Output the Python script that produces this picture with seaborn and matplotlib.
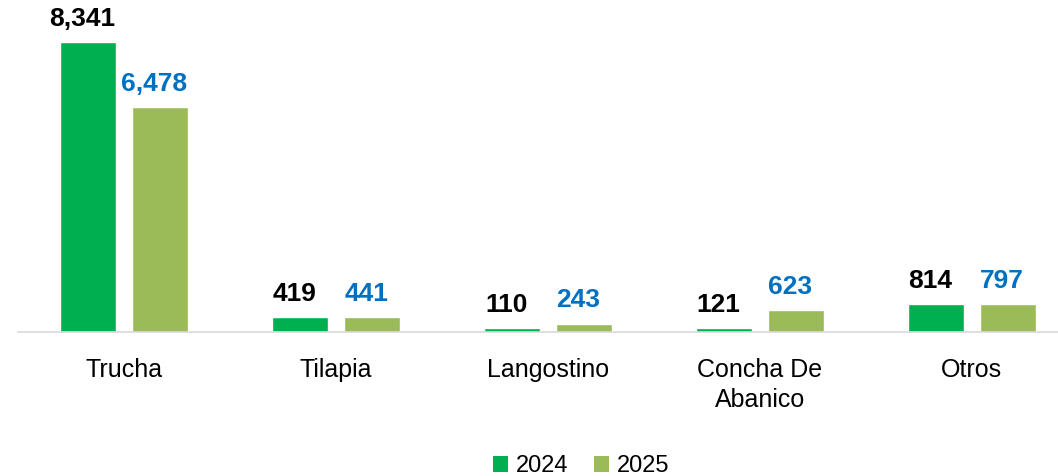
import matplotlib
matplotlib.use("Agg")
import matplotlib.pyplot as plt
import seaborn as sns
import pandas as pd
from matplotlib.patches import Patch

categories = ["Trucha", "Tilapia", "Langostino", "Concha De\nAbanico", "Otros"]
years = ["2024", "2025"]
values_2024 = [8341, 419, 110, 121, 814]
values_2025 = [6478, 441, 243, 623, 797]

colors = {"2024": "#00B050", "2025": "#9BBB59"}
label_colors = {"2024": "#000000", "2025": "#0070C0"}

df = pd.DataFrame({
    "cat": categories * 2,
    "year": ["2024"] * len(categories) + ["2025"] * len(categories),
    "val": values_2024 + values_2025,
})

sns.set_theme(style="white")
plt.rcParams["font.family"] = ["Liberation Sans", "DejaVu Sans"]

fig = plt.figure(figsize=(10.58, 4.76), dpi=100)
ax = fig.add_axes([18 / 1058, 1 - 332 / 476, 1040 / 1058, 332 / 476])

sns.barplot(data=df, x="cat", y="val", hue="year", order=categories,
            hue_order=years, palette=colors, width=0.675, gap=0.214,
            ax=ax, legend=False, saturation=1)

for cont, yr in zip(ax.containers, years):
    for patch, v in zip(cont.patches, cont.datavalues):
        ax.annotate(f"{v:,.0f}",
                    xy=(patch.get_x() + patch.get_width() / 2, patch.get_height()),
                    xytext=(-4, 8), textcoords="offset points",
                    ha="center", va="bottom", fontsize=19, fontweight="bold",
                    color=label_colors[yr])

ax.set_ylim(0, 9550)
ax.set_xlim(-0.5, 4.406)
ax.set_xlabel("")
ax.set_ylabel("")
ax.set_yticks([])
for s in ["top", "right", "left"]:
    ax.spines[s].set_visible(False)
ax.spines["bottom"].set_color("#D9D9D9")
ax.spines["bottom"].set_linewidth(1.2)
ax.tick_params(axis="x", length=0, pad=19, labelsize=18, labelcolor="#000000")
for t in ax.get_xticklabels():
    t.set_linespacing(1.3)
    t.set_verticalalignment("top")

handles = [Patch(facecolor=colors[y], edgecolor="none", label=y) for y in years]
leg = fig.legend(handles=handles, loc="center", bbox_to_anchor=(581 / 1058, 1 - 466 / 476),
                 ncol=2, frameon=False, fontsize=17, handlelength=0.65, handleheight=0.65,
                 handletextpad=0.3, columnspacing=1.1)
for t in leg.get_texts():
    t.set_color("#000000")

fig.savefig("out.png", dpi=100)
